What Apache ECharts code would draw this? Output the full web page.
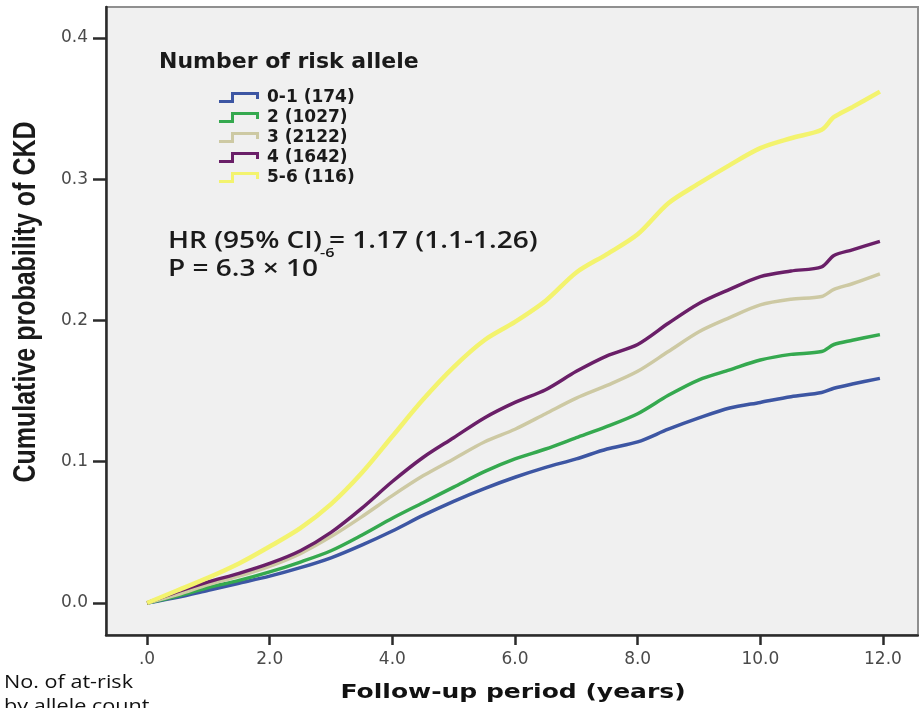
<!DOCTYPE html>
<html>
<head>
<meta charset="utf-8">
<script src="https://cdn.jsdelivr.net/npm/echarts@6/dist/echarts.min.js"></script>
<style>
html,body{margin:0;padding:0;background:#fff;}
#chart{width:919px;height:708px;}
</style>
</head>
<body>
<div id="chart"></div>
<script>
// ---- data ----
const years = [0,0.5,1,1.5,2,2.5,3,3.5,4,4.5,5,5.5,6,6.5,7,7.5,8,8.5,9,9.5,10,10.5,11,11.2,11.5,11.95];
const seriesNames = ['0-1 (174)','2 (1027)','3 (2122)','4 (1642)','5-6 (116)'];
const allele01 = [0,0.004,0.009,0.014,0.019,0.025,0.032,0.041,0.051,0.062,0.072,0.081,0.089,0.096,0.102,0.109,0.114,0.123,0.131,0.138,0.142,0.146,0.149,0.152,0.155,0.159];
const allele2  = [0,0.005,0.011,0.016,0.022,0.029,0.037,0.048,0.060,0.071,0.082,0.093,0.102,0.109,0.117,0.125,0.134,0.147,0.158,0.165,0.172,0.176,0.178,0.183,0.186,0.190];
const allele3  = [0,0.006,0.013,0.019,0.026,0.035,0.047,0.061,0.076,0.090,0.102,0.114,0.123,0.134,0.145,0.154,0.164,0.178,0.192,0.202,0.211,0.215,0.217,0.222,0.226,0.233];
const allele4  = [0,0.008,0.015,0.021,0.028,0.037,0.050,0.067,0.086,0.103,0.117,0.131,0.142,0.151,0.164,0.175,0.183,0.198,0.212,0.222,0.231,0.235,0.238,0.246,0.250,0.256];
const allele56 = [0,0.009,0.018,0.028,0.040,0.053,0.070,0.092,0.118,0.144,0.167,0.186,0.199,0.214,0.234,0.247,0.261,0.283,0.297,0.310,0.322,0.329,0.335,0.344,0.351,0.362];
const xTicks = [0,2,4,6,8,10,12];
const yTicks = [0,0.1,0.2,0.3,0.4];
const colors = ['#3d56a3','#35a94f','#cdc9a3','#6a1f68','#f3f36e'];

const allSeries = [allele01, allele2, allele3, allele4, allele56];

const chart = echarts.init(document.getElementById('chart'), null, {renderer:'canvas'});

const series = allSeries.map((vals, i) => ({
  name: seriesNames[i],
  type: 'line',
  data: years.map((x, j) => [x, vals[j]]),
  showSymbol: false,
  smooth: 0.3,
  color: colors[i],
  lineStyle: {width: i === 4 ? 4.5 : 3.5, color: colors[i]},
  z: 2 + i
}));

const option = {
  backgroundColor: '#ffffff',
  animation: false,
  grid: {
    left: 106, top: 7, right: 1, bottom: 73,
    show: true, backgroundColor: '#f0f0f0', borderColor: '#8f8f8f', borderWidth: 2
  },
  title: {
    text: 'Number of risk allele',
    left: 159, top: 51, padding: 0,
    textStyle: {fontFamily: 'DejaVu Sans', fontWeight: 'bold', fontSize: 22, color: '#1a1a1a'}
  },
  legend: {
    orient: 'vertical',
    left: 219, top: 89, padding: 0,
    itemWidth: 40, itemHeight: 11, itemGap: 3,
    icon: 'path://M0,8L12,8L12,0L40,0L40,7L37,7L37,3L15,3L15,11L0,11Z',
    data: seriesNames,
    textStyle: {fontFamily: 'DejaVu Sans', fontWeight: 'bold', fontSize: 17, lineHeight: 17, color: '#1a1a1a', padding: [0,0,0,3]}
  },
  xAxis: {
    type: 'value',
    min: -0.669, max: 12.571,
    axisLine: {show: true, onZero: false, lineStyle: {color: '#2b2b2b', width: 2.5}},
    axisTick: {show: true, customValues: xTicks, length: 10, lineStyle: {color: '#2b2b2b', width: 2.5}},
    axisLabel: {
      customValues: xTicks, margin: 16,
      fontFamily: 'DejaVu Sans', fontSize: 17, color: '#4a4a4a',
      formatter: v => (v === 0 ? '.0' : v.toFixed(1))
    },
    splitLine: {show: false}
  },
  yAxis: {
    type: 'value',
    min: -0.02265, max: 0.4219,
    axisLine: {show: true, onZero: false, lineStyle: {color: '#2b2b2b', width: 2.5}},
    axisTick: {show: true, customValues: yTicks, length: 13, lineStyle: {color: '#2b2b2b', width: 2.5}},
    axisLabel: {
      customValues: yTicks, margin: 18,
      fontFamily: 'DejaVu Sans', fontSize: 17, color: '#4a4a4a',
      formatter: v => v.toFixed(1)
    },
    splitLine: {show: false}
  },
  graphic: [
    {type: 'text', x: 26, y: 302, rotation: Math.PI / 2, scaleY: 1.25,
     style: {text: 'Cumulative probability of CKD', fontFamily: 'Liberation Sans', fontWeight: 'bold', fontSize: 25, fill: '#1a1a1a', align: 'center', verticalAlign: 'middle'}},
    {type: 'text', x: 513 - 138 * 1.25, y: 693, scaleX: 1.25,
     style: {text: 'Follow-up period (years)', fontFamily: 'DejaVu Sans', fontWeight: 'bold', fontSize: 20, fill: '#111', align: 'left', verticalAlign: 'middle'}},
    {type: 'text', x: 168, y: 242, scaleX: 1.245,
     style: {text: 'HR (95% CI) = 1.17 (1.1-1.26)', fontFamily: 'Open Sans', fontWeight: 600, fontSize: 22.5, fill: '#1a1a1a', align: 'left', verticalAlign: 'middle'}},
    {type: 'text', x: 168, y: 270, scaleX: 1.245,
     style: {text: 'P = 6.3 \u00d7 10', fontFamily: 'Open Sans', fontWeight: 600, fontSize: 22.5, fill: '#1a1a1a', align: 'left', verticalAlign: 'middle'}},
    {type: 'text', x: 320, y: 253, scaleX: 1.25,
     style: {text: '-6', fontFamily: 'Open Sans', fontWeight: 600, fontSize: 13, fill: '#1a1a1a', align: 'left', verticalAlign: 'middle'}},
    {type: 'text', x: 4, y: 683, scaleX: 1.2,
     style: {text: 'No. of at-risk', fontFamily: 'Open Sans', fontSize: 18, fill: '#111', align: 'left', verticalAlign: 'middle'}},
    {type: 'text', x: 4, y: 707, scaleX: 1.2,
     style: {text: 'by allele count', fontFamily: 'Open Sans', fontSize: 18, fill: '#111', align: 'left', verticalAlign: 'middle'}}
  ],
  series: series
};
chart.setOption(option);
</script>
</body>
</html>
